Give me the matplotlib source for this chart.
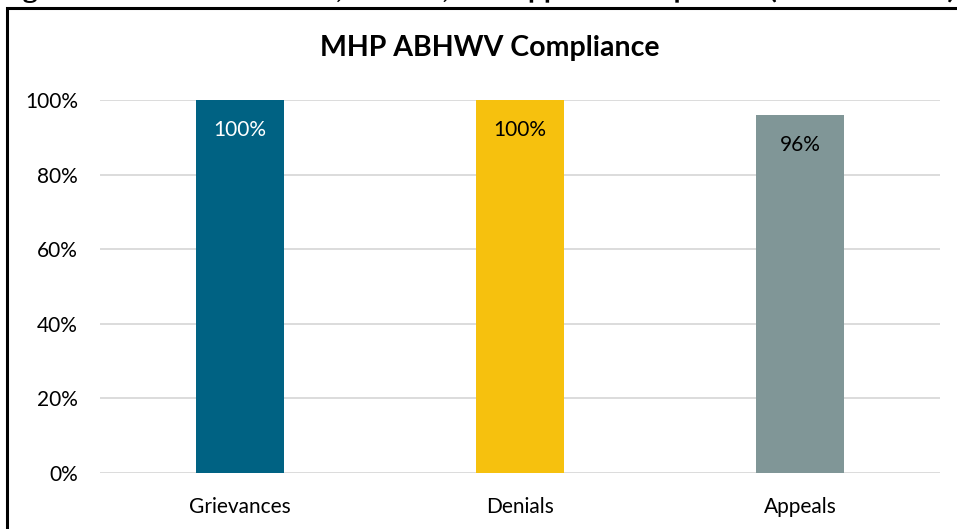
import matplotlib
matplotlib.use("Agg")
import matplotlib.pyplot as plt
from matplotlib.patches import Rectangle, PathPatch
from matplotlib.textpath import TextPath
from matplotlib.font_manager import FontProperties
from matplotlib.transforms import Affine2D, IdentityTransform
from matplotlib.ticker import FuncFormatter

categories = ["Grievances", "Denials", "Appeals"]
compliance = [1.00, 1.00, 0.96]
bar_colors = ["#006283", "#F6C10E", "#809697"]
label_colors = ["white", "black", "black"]
yticks = [0, 0.2, 0.4, 0.6, 0.8, 1.0]
caption = "Figure 6—MHP Grievances, Denials, and Appeals Compliance (SFY 2022–23)"

plt.rcParams["font.family"] = ["Lato", "DejaVu Sans"]

W, H = 957, 529
fig = plt.figure(figsize=(W / 100, H / 100), dpi=100)

# caption line above the chart frame, running off the top edge of the page
size = 22
tp = TextPath((0, 0), caption, size=size, prop=FontProperties(family="Lato", weight="bold"))
ext = tp.get_extents()
tr = Affine2D().translate(-ext.x0, 0).scale(952 / ext.width, 1).translate(2, H + 1)
fig.patches.append(PathPatch(tr.transform_path(tp), transform=IdentityTransform(),
                             facecolor="black", edgecolor="none"))

# chart frame
fig.patches.append(Rectangle((7 / W, -0.05), 1.1, 1 - 8 / H + 0.05,
                             transform=fig.transFigure, fill=False,
                             edgecolor="black", linewidth=2.2))

ax = fig.add_axes([100 / W, 1 - 473 / H, 840 / W, (473 - 100) / H])
x = range(len(categories))
bars = ax.bar(x, compliance, width=0.315, color=bar_colors, zorder=3)

for xi, v, c in zip(x, compliance, label_colors):
    ax.text(xi, v - 0.08, f"{v:.0%}", ha="center", va="center",
            fontsize=15, color=c, zorder=4)

ax.set_xlim(-0.5, 2.5)
ax.set_ylim(0, 1)
ax.set_yticks(yticks)
ax.yaxis.set_major_formatter(FuncFormatter(lambda v, _: f"{v:.0%}"))
ax.set_xticks(list(x))
ax.set_xticklabels(categories)
ax.tick_params(axis="both", length=0, labelsize=15, colors="black")
ax.tick_params(axis="y", pad=16)
ax.tick_params(axis="x", pad=17)
ax.grid(axis="y", color="#D9D9D9", linewidth=1.3, zorder=0)
for s in ax.spines.values():
    s.set_visible(False)

fig.text(490 / W, 1 - 48 / H, "MHP ABHWV Compliance", ha="center", va="center",
         fontsize=20.5, fontweight="bold")

fig.savefig("out.png", dpi=100)
